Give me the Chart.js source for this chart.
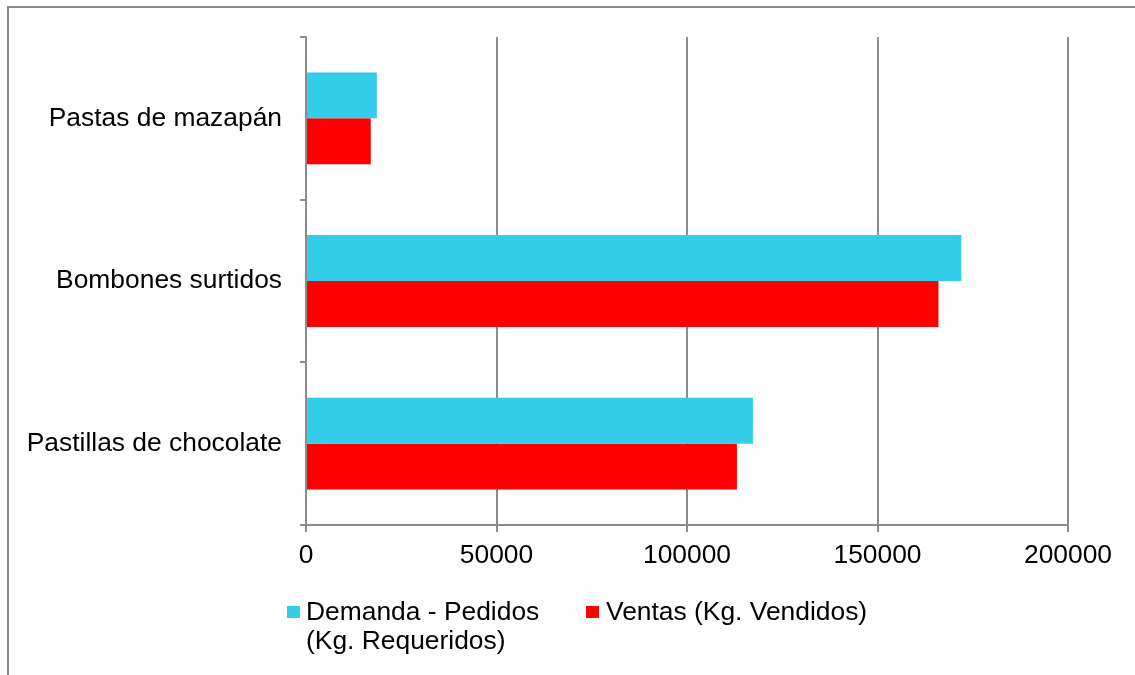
<!DOCTYPE html>
<html>
<head>
<meta charset="utf-8">
<script src="https://cdn.jsdelivr.net/npm/chart.js@4/dist/chart.umd.min.js"></script>
<style>
  body { margin: 0; background: #fff; overflow: hidden; }
  #marco {
    position: absolute; left: 7px; top: 6px; width: 1300px; height: 800px;
    border: 2px solid #8c8c8c;
  }
  #miGrafica { position: absolute; left: 0; top: 0; }
  .leyenda {
    position: absolute; font-family: "Liberation Sans", Arial, sans-serif;
    font-size: 26.4px; line-height: 29px; color: #000;
  }
  .cuadro { position: absolute; width: 13px; height: 12px; }
</style>
</head>
<body>
<div id="marco"></div>
<canvas id="miGrafica" width="1135" height="675"></canvas>
<div class="cuadro" style="left:287px; top:606px; background: rgb(51,204,233);"></div>
<div class="leyenda" style="left:306px; top:597px;">Demanda - Pedidos<br>(Kg. Requeridos)</div>
<div class="cuadro" style="left:586px; top:606px; background: #ff0000;"></div>
<div class="leyenda" style="left:606px; top:597px;">Ventas (Kg. Vendidos)</div>
<script>
// Categorias (eje Y)
const etiquetas = ["Pastas de mazapán", "Bombones surtidos", "Pastillas de chocolate"];
// Datos
const demanda = [18600, 172000, 117300];
const ventas = [17000, 166000, 113100];
// Eje X
const ticksX = [0, 50000, 100000, 150000, 200000];

const colorGrid = "#8c8c8c";
const fuente = { family: "'Liberation Sans', Arial, sans-serif", size: 26.4 };

const ctx = document.getElementById("miGrafica").getContext("2d");
new Chart(ctx, {
  type: "bar",
  data: {
    labels: etiquetas,
    datasets: [
      {
        label: "Demanda - Pedidos (Kg. Requeridos)",
        data: demanda,
        backgroundColor: "rgb(51, 204, 233)",
        categoryPercentage: 0.565,
        barPercentage: 1,
      },
      {
        label: "Ventas (Kg. Vendidos)",
        data: ventas,
        backgroundColor: "#ff0000",
        categoryPercentage: 0.565,
        barPercentage: 1,
      },
    ],
  },
  options: {
    indexAxis: "y",
    responsive: false,
    animation: false,
    layout: { padding: { top: 37, right: 67, left: 0, bottom: 0 } },
    plugins: { legend: { display: false }, tooltip: { enabled: false } },
    scales: {
      x: {
        min: ticksX[0],
        max: ticksX[ticksX.length - 1],
        afterBuildTicks: (scale) => {
          scale.ticks = ticksX.map((v) => ({ value: v }));
        },
        afterFit: (scale) => {
          scale.height = 150;
        },
        ticks: {
          color: "#000",
          font: fuente,
          padding: 8,
          maxRotation: 0,
          callback: (v) => String(v),
        },
        grid: { color: colorGrid, lineWidth: 2, tickLength: 7 },
        border: { color: colorGrid, width: 2 },
      },
      y: {
        afterFit: (scale) => {
          scale.width = 306;
        },
        ticks: { color: "#000", font: fuente, padding: 18 },
        grid: {
          color: colorGrid,
          lineWidth: 2,
          drawOnChartArea: false,
          tickLength: 6,
        },
        border: { color: colorGrid, width: 2 },
      },
    },
  },
});
</script>
</body>
</html>
